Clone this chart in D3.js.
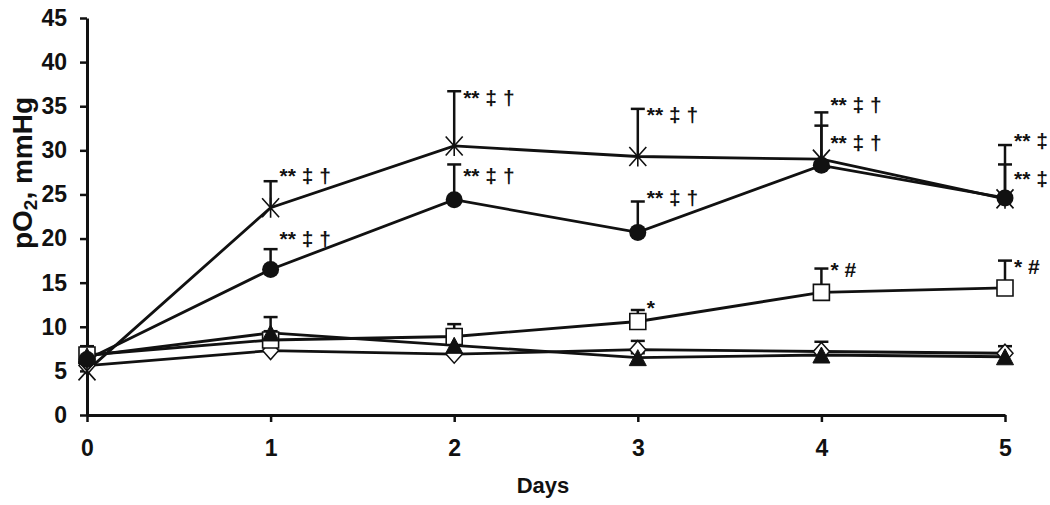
<!DOCTYPE html>
<meta charset="utf-8">
<script src="https://d3js.org/d3.v7.min.js"></script>
<style>
  body { margin: 0; background: #fff; }
  text { font-family: "Liberation Sans", Arial, sans-serif; font-weight: bold; fill: #111; }
</style>
<div id="chart"></div>
<script>

// data (pO2, mmHg by day)
var days = [0, 1, 2, 3, 4, 5];
var yTicks = [0, 5, 10, 15, 20, 25, 30, 35, 40, 45];

var crossVals   = [5.0, 23.5, 30.5, 29.3, 29.0, 24.5];
var crossSd     = [0.0, 3.0, 6.2, 5.4, 5.3, 6.1];
var circleVals  = [6.3, 16.5, 24.4, 20.7, 28.3, 24.6];
var circleSd    = [0.6, 2.3, 4.0, 3.5, 4.5, 3.8];
var squareVals  = [6.8, 8.5, 8.9, 10.6, 13.9, 14.4];
var squareSd    = [1.0, 1.0, 1.4, 1.3, 2.7, 3.1];
var triVals     = [6.7, 9.3, 7.9, 6.5, 6.8, 6.6];
var triSd       = [0.8, 1.8, 0.5, 0.5, 0.5, 0.4];
var diamondVals = [5.6, 7.3, 6.9, 7.4, 7.2, 7.0];
var diamondSd   = [0.3, 0.3, 0.3, 1.0, 1.1, 0.8];

// significance marks: day, level (baseline, in mmHg), label
var noteDay   = [1, 1, 2, 2, 3, 3, 4, 4, 5, 5, 3, 4, 5];
var noteLevel = [26.3, 19.2, 35.1, 26.3, 33.2, 23.8, 34.3, 30.0, 30.3, 26.0, 11.3, 15.6, 16.0];
var noteText  = ["** \u2021 \u2020", "** \u2021 \u2020", "** \u2021 \u2020", "** \u2021 \u2020",
                 "** \u2021 \u2020", "** \u2021 \u2020", "** \u2021 \u2020", "** \u2021 \u2020",
                 "** \u2021", "** \u2021", "*", "* #", "* #"];

var margin = {top: 18, right: 45, bottom: 90, left: 87},
    width = 1050 - margin.left - margin.right,
    height = 505 - margin.top - margin.bottom;

var svg = d3.select("#chart")
  .append("svg")
    .attr("width", 1050)
    .attr("height", 505)
  .append("g")
    .attr("transform", "translate(" + margin.left + "," + margin.top + ")");

var x = d3.scaleLinear().domain([0, 5]).range([0, width]);
var y = d3.scaleLinear().domain([0, 45]).range([height, 0]);

// axes
var xAxis = svg.append("g")
  .attr("transform", "translate(0," + height + ")")
  .call(d3.axisBottom(x).tickValues(days).tickFormat(d3.format("d")).tickSize(7).tickSizeOuter(0));
var yAxis = svg.append("g")
  .call(d3.axisLeft(y).tickValues(yTicks).tickSize(7).tickSizeOuter(0));

[xAxis, yAxis].forEach(function(a) {
  a.select(".domain").attr("stroke", "#111").attr("stroke-width", 3);
  a.selectAll(".tick line").attr("stroke", "#111").attr("stroke-width", 2.5);
  a.selectAll("text")
    .attr("font-size", 23)
    .attr("font-family", null)
    .attr("fill", "#111");
});
yAxis.selectAll("text").attr("x", -20);
xAxis.selectAll("text").attr("y", 41).attr("dy", 0);

// axis titles
svg.append("text")
  .attr("x", width / 2 - 3)
  .attr("y", height + 78)
  .attr("text-anchor", "middle")
  .attr("font-size", 22)
  .text("Days");

var ylab = svg.append("text")
  .attr("transform", "translate(" + (32 - margin.left) + "," + (173 - margin.top) + ") rotate(-90)")
  .attr("text-anchor", "middle")
  .attr("font-size", 28);
ylab.append("tspan").text("pO");
ylab.append("tspan").attr("font-size", 19).attr("dy", 5).text("2");
ylab.append("tspan").attr("dy", -5).text(", mmHg");

// series in drawing order
var series = [
  {vals: diamondVals, sd: diamondSd, shape: "diamond"},
  {vals: squareVals,  sd: squareSd,  shape: "square"},
  {vals: triVals,     sd: triSd,     shape: "triangle"},
  {vals: crossVals,   sd: crossSd,   shape: "cross"},
  {vals: circleVals,  sd: circleSd,  shape: "circle"}
];

var line = d3.line()
  .x(function(d) { return x(d.day); })
  .y(function(d) { return y(d.v); });

series.forEach(function(s) {
  s.pts = days.map(function(d, i) { return {day: d, v: s.vals[i], sd: s.sd[i]}; });
});

// lines
series.forEach(function(s) {
  svg.append("path")
    .datum(s.pts)
    .attr("fill", "none")
    .attr("stroke", "#111")
    .attr("stroke-width", 2.8)
    .attr("d", line);
});

// upper error bars
series.forEach(function(s) {
  var g = svg.append("g").attr("stroke", "#111").attr("stroke-width", 2.5);
  var withBar = s.pts.filter(function(d) { return d.sd > 0; });
  g.selectAll(".v").data(withBar).enter()
    .append("line")
      .attr("x1", function(d) { return x(d.day); })
      .attr("x2", function(d) { return x(d.day); })
      .attr("y1", function(d) { return y(d.v); })
      .attr("y2", function(d) { return y(d.v + d.sd); });
  g.selectAll(".c").data(withBar).enter()
    .append("line")
      .attr("x1", function(d) { return x(d.day) - 7; })
      .attr("x2", function(d) { return x(d.day) + 7; })
      .attr("y1", function(d) { return y(d.v + d.sd); })
      .attr("y2", function(d) { return y(d.v + d.sd); });
});

// markers
var shapes = {
  diamond:  {d: "M0,-9L8,0L0,9L-8,0Z", fill: "#fff", sw: 1.5},
  square:   {d: "M-8,-8H8V8H-8Z", fill: "#fff", sw: 1.6},
  triangle: {d: "M0,-8L8.5,8H-8.5Z", fill: "#111", sw: 1},
  cross:    {d: "M0,-10V10M-8.5,-9.5L8.5,9.5M-8.5,9.5L8.5,-9.5", fill: "none", sw: 1.6},
  circle:   {d: d3.symbol().type(d3.symbolCircle).size(Math.PI * 8.5 * 8.5)(), fill: "#111", sw: 0}
};

series.forEach(function(s) {
  var sh = shapes[s.shape];
  svg.append("g").selectAll("path").data(s.pts).enter()
    .append("path")
      .attr("transform", function(d) { return "translate(" + x(d.day) + "," + y(d.v) + ")"; })
      .attr("d", sh.d)
      .attr("fill", sh.fill)
      .attr("stroke", "#111")
      .attr("stroke-width", sh.sw);
});

// significance labels
noteDay.forEach(function(d, i) {
  svg.append("text")
    .attr("x", x(d) + 9)
    .attr("y", y(noteLevel[i]))
    .attr("font-size", 21)
    .text(noteText[i]);
});

</script>
